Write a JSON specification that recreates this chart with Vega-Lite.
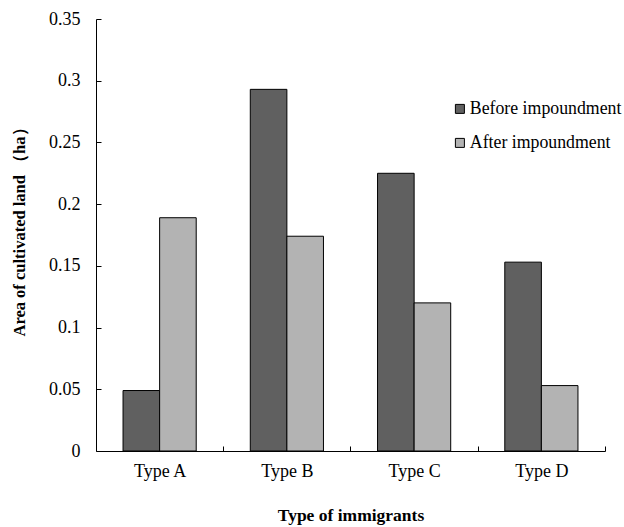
{
  "$schema": "https://vega.github.io/schema/vega-lite/v6.json",
  "autosize": "none",
  "width": 509,
  "height": 432,
  "padding": {"left": 96, "top": 19, "right": 19, "bottom": 76},
  "background": "white",
  "data": {
    "values": [
      {"type": "Type A", "period": "Before impoundment", "area": 0.049},
      {"type": "Type A", "period": "After impoundment", "area": 0.189},
      {"type": "Type B", "period": "Before impoundment", "area": 0.293},
      {"type": "Type B", "period": "After impoundment", "area": 0.174},
      {"type": "Type C", "period": "Before impoundment", "area": 0.225},
      {"type": "Type C", "period": "After impoundment", "area": 0.120},
      {"type": "Type D", "period": "Before impoundment", "area": 0.153},
      {"type": "Type D", "period": "After impoundment", "area": 0.053}
    ]
  },
  "mark": {"type": "bar", "stroke": "black", "strokeWidth": 1},
  "encoding": {
    "x": {
      "field": "type",
      "type": "nominal",
      "scale": {"paddingInner": 0.425, "paddingOuter": 0.2125},
      "axis": {
        "title": "Type of immigrants",
        "titleFont": "Times New Roman, Liberation Serif, serif",
        "titleFontSize": 17.5,
        "titleFontWeight": "bold",
        "titleColor": "black",
        "titlePadding": 26,
        "labelAngle": 0,
        "labelAlign": "center",
        "labelFont": "Times New Roman, Liberation Serif, serif",
        "labelFontSize": 18,
        "labelColor": "black",
        "labelPadding": 11,
        "ticks": false,
        "tickOffset": 63.5,
        "labelOffset": -63.5,
        "grid": true,
        "gridColor": "black",
        "gridOpacity": 1,
        "gridWidth": 1,
        "gridDash": [0, 427, 5, 100],
        "domainColor": "black"
      }
    },
    "xOffset": {
      "field": "period",
      "type": "nominal",
      "sort": ["Before impoundment", "After impoundment"],
      "scale": {"paddingInner": 0, "paddingOuter": 0}
    },
    "y": {
      "field": "area",
      "type": "quantitative",
      "scale": {"domain": [0, 0.35], "nice": false},
      "axis": {
        "title": "Area of cultivated land （ha）",
        "titleFont": "Times New Roman, Liberation Serif, serif",
        "titleFontSize": 16.5,
        "titleFontWeight": "bold",
        "titleColor": "black",
        "titlePadding": 21,
        "titleY": 208.5,
        "values": [0, 0.05, 0.1, 0.15, 0.2, 0.25, 0.3, 0.35],
        "labelFont": "Times New Roman, Liberation Serif, serif",
        "labelFontSize": 18,
        "labelColor": "black",
        "labelPadding": 16,
        "ticks": false,
        "grid": true,
        "gridColor": "black",
        "gridOpacity": 1,
        "gridWidth": 1,
        "gridDash": [5, 2000],
        "domainColor": "black",
        "labelExpr": "datum.value === 0 ? '0' : format(datum.value, '.2~f')"
      }
    },
    "color": {
      "field": "period",
      "type": "nominal",
      "sort": ["Before impoundment", "After impoundment"],
      "scale": {"domain": ["Before impoundment", "After impoundment"], "range": ["#606060", "#b3b3b3"]},
      "legend": {
        "title": null,
        "orient": "none",
        "legendX": 355,
        "legendY": 81,
        "symbolType": "square",
        "symbolSize": 81,
        "symbolStrokeColor": "black",
        "symbolStrokeWidth": 1,
        "labelFont": "Times New Roman, Liberation Serif, serif",
        "labelFontSize": 17.8,
        "labelColor": "black",
        "labelOffset": 1,
        "rowPadding": 15
      }
    }
  },
  "config": {"view": {"stroke": null}}
}
